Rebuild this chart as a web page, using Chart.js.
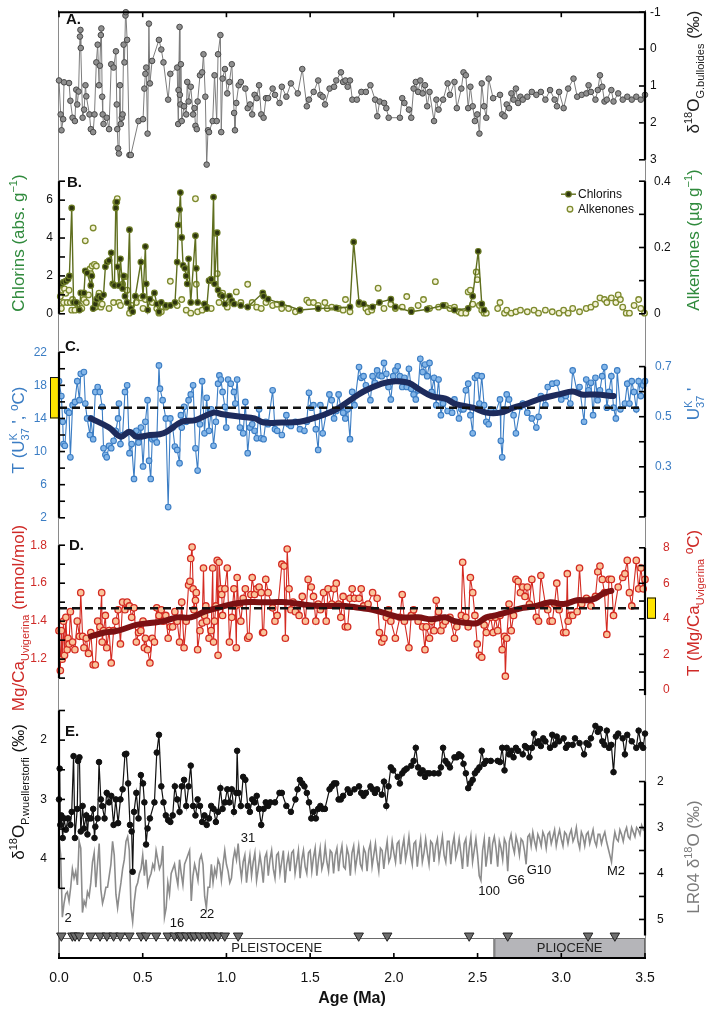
<!DOCTYPE html>
<html>
<head>
<meta charset="utf-8">
<title>Proxy records 0-3.5 Ma</title>
<script src="https://cdn.jsdelivr.net/npm/chart.js@4.4.1/dist/chart.umd.min.js"></script>
<style>
  html, body { margin: 0; padding: 0; background: #fff; }
  #wrap { position: relative; width: 709px; height: 1010px; overflow: hidden; }
  #wrap canvas { position: absolute; left: 0; }
  #frame { position: absolute; left: 58px; top: 10px; width: 586px; height: 948px;
           border-left: 1px solid #8a8a8a; border-right: 1px solid #8a8a8a; }
</style>
</head>
<body>
<div id="wrap">
  <div id="frame"></div>
  <canvas id="panelA" width="709" height="172" style="top:0px"></canvas>
  <canvas id="panelB" width="709" height="165" style="top:165px"></canvas>
  <canvas id="panelC" width="709" height="204" style="top:333px"></canvas>
  <canvas id="panelD" width="709" height="195" style="top:520px"></canvas>
  <canvas id="panelE" width="709" height="318" style="top:692px"></canvas>
</div>
<script>
const FONT = "'Liberation Sans', Arial, Helvetica, sans-serif";
Chart.defaults.font.family = FONT;
Chart.defaults.color = '#111';

// ---------- A. d18O G. bulloides (permil) ----------
const ageA = [
  0.000,0.010,0.015,0.025,0.030,0.060,0.068,0.081,0.095,0.103,
  0.109,0.117,0.125,0.128,0.130,0.141,0.150,0.158,0.163,0.182,
  0.190,0.204,0.212,0.223,0.231,0.239,0.244,0.250,0.253,0.258,
  0.261,0.266,0.285,0.299,0.312,0.326,0.340,0.345,0.348,0.353,
  0.358,0.364,0.369,0.375,0.380,0.386,0.391,0.397,0.399,0.407,
  0.421,0.429,0.475,0.502,0.510,0.516,0.521,0.529,0.537,0.543,
  0.556,0.597,0.611,0.624,0.652,0.665,0.706,0.712,0.714,0.720,
  0.722,0.725,0.728,0.733,0.747,0.760,0.766,0.774,0.787,0.801,
  0.809,0.815,0.823,0.828,0.842,0.855,0.863,0.874,0.882,0.890,
  0.896,0.918,0.929,0.942,0.950,0.964,0.969,0.977,0.991,1.005,
  1.018,1.032,1.046,1.051,1.059,1.073,1.086,1.113,1.127,1.141,
  1.154,1.168,1.181,1.195,1.208,1.222,1.236,1.249,1.276,1.290,
  1.317,1.331,1.358,1.385,1.426,1.453,1.480,1.493,1.521,1.548,
  1.561,1.575,1.589,1.616,1.643,1.656,1.684,1.697,1.711,1.724,
  1.738,1.752,1.779,1.806,1.833,1.860,1.888,1.901,1.915,1.942,
  1.955,1.969,2.036,2.050,2.063,2.090,2.104,2.118,2.131,2.145,
  2.158,2.172,2.186,2.199,2.213,2.240,2.254,2.267,2.294,2.321,
  2.335,2.362,2.376,2.403,2.416,2.430,2.444,2.457,2.471,2.484,
  2.498,2.511,2.525,2.539,2.552,2.566,2.593,2.634,2.647,2.661,
  2.674,2.688,2.702,2.715,2.729,2.742,2.756,2.770,2.797,2.824,
  2.851,2.878,2.905,2.933,2.960,2.974,2.987,3.014,3.041,3.073,
  3.095,3.122,3.150,3.163,3.177,3.204,3.218,3.231,3.245,3.258,
  3.272,3.299,3.312,3.340,3.367,3.394,3.421,3.448,3.475,3.500
];
const d18oBulloides = [
  0.85,1.77,2.20,1.90,0.90,0.92,1.40,1.86,1.95,1.10,
  1.50,1.15,-0.34,-0.52,-0.03,1.86,1.64,0.98,1.28,1.77,
  2.17,2.25,1.77,0.36,-0.12,0.98,0.45,-0.38,-0.56,1.29,
  1.77,2.03,1.86,2.17,0.41,0.50,0.06,1.50,2.17,2.69,
  2.83,0.98,2.03,1.86,1.77,-0.12,0.36,-0.91,-1.00,-0.25,
  2.87,2.87,1.95,1.90,1.07,0.67,0.50,2.29,-0.69,0.93,
  0.32,-0.25,0.01,0.36,1.37,0.67,0.50,2.03,1.11,-0.60,
  1.24,1.50,0.41,1.95,1.55,1.77,0.89,1.42,1.02,1.77,
  1.60,2.08,2.17,1.42,0.71,0.63,0.14,1.29,3.13,2.20,
  2.25,1.95,0.71,1.95,0.14,-0.38,2.25,0.80,0.54,1.20,
  0.89,0.41,1.73,2.20,1.46,0.98,0.89,1.07,1.60,1.50,
  1.77,1.24,1.33,0.98,1.77,1.86,1.33,1.33,1.07,1.24,
  1.46,1.02,1.29,0.93,1.20,0.54,1.55,1.37,1.16,0.85,
  1.24,1.29,1.50,1.07,1.02,0.85,0.63,0.89,0.85,1.02,
  0.85,1.37,1.37,1.16,1.16,0.98,1.37,1.82,1.42,1.46,
  1.60,1.86,1.86,1.33,1.46,1.64,1.86,1.07,0.89,1.16,
  0.85,1.20,0.98,1.55,1.16,1.95,1.37,1.64,1.37,0.93,
  1.24,0.89,1.60,1.07,0.63,0.71,1.60,1.02,1.55,1.95,
  1.77,2.29,0.93,1.55,1.86,0.80,1.33,1.24,1.77,1.82,
  1.50,1.60,1.20,1.37,1.07,1.46,1.29,1.37,1.29,1.16,
  1.24,1.16,1.37,1.11,1.37,1.55,1.16,1.60,1.07,0.80,
  1.29,1.24,1.20,0.98,1.16,1.37,1.11,0.71,1.02,1.42,
  1.37,1.11,1.42,1.20,1.37,1.29,1.37,1.29,1.37,1.24
];

// ---------- B. Chlorins (abs. g-1) and alkenones (ug g-1) ----------
const ageChl = [
  0.014,0.027,0.041,0.054,0.062,0.076,0.087,0.103,0.122,0.130,
  0.149,0.157,0.168,0.190,0.196,0.204,0.217,0.225,0.236,0.250,
  0.266,0.277,0.288,0.299,0.312,0.321,0.331,0.339,0.345,0.350,
  0.358,0.367,0.380,0.386,0.394,0.407,0.421,0.429,0.440,0.456,
  0.489,0.502,0.516,0.521,0.530,0.543,0.570,0.584,0.597,0.611,
  0.638,0.665,0.693,0.706,0.712,0.720,0.725,0.733,0.741,0.752,
  0.760,0.766,0.774,0.787,0.815,0.820,0.828,0.869,0.882,0.896,
  0.909,0.923,0.929,0.945,0.950,0.964,0.977,0.991,1.018,1.032,
  1.046,1.086,1.127,1.217,1.222,1.249,1.331,1.439,1.548,1.656,
  1.738,1.760,1.792,1.819,1.873,1.914,1.982,2.009,2.104,2.199,
  2.294,2.362,2.444,2.471,2.504,2.525,2.539
];
const chlorins = [
  1.58,1.67,1.72,1.83,2.00,5.59,0.60,0.60,0.20,1.10,
  1.10,2.27,2.16,1.50,2.00,0.28,0.52,0.77,0.93,0.85,
  1.00,2.48,2.73,2.81,3.22,1.58,1.50,5.59,5.90,2.48,
  1.50,2.90,1.34,2.00,0.93,0.60,4.44,0.28,0.11,0.93,
  2.73,0.93,3.55,1.58,0.20,0.77,1.10,0.52,0.11,0.60,
  0.44,0.44,0.60,2.73,4.69,5.50,6.40,4.03,2.56,2.40,
  2.00,1.58,2.90,0.60,4.12,2.40,0.60,0.52,0.28,1.75,
  1.83,6.16,1.58,4.28,1.26,1.00,0.93,0.52,0.93,0.69,
  0.52,0.44,0.36,1.10,0.93,0.77,0.52,0.20,0.28,0.31,
  0.36,3.79,0.60,0.52,0.36,0.60,0.77,0.36,0.11,0.24,
  0.44,0.20,0.28,0.93,3.30,0.52,0.20
];
const ageAlk = [
  0.008,0.014,0.019,0.027,0.033,0.041,0.049,0.060,0.068,0.076,
  0.081,0.095,0.109,0.122,0.136,0.149,0.157,0.163,0.176,0.185,
  0.190,0.198,0.204,0.212,0.217,0.223,0.231,0.239,0.250,0.258,
  0.299,0.326,0.339,0.348,0.358,0.367,0.380,0.394,0.407,0.421,
  0.434,0.462,0.489,0.502,0.516,0.557,0.584,0.597,0.611,0.638,
  0.665,0.706,0.733,0.760,0.787,0.815,0.820,0.828,0.855,0.882,
  0.909,0.937,0.945,0.956,0.977,1.005,1.032,1.059,1.086,1.127,
  1.154,1.181,1.208,1.236,1.276,1.303,1.330,1.371,1.412,1.439,
  1.480,1.493,1.520,1.548,1.588,1.602,1.629,1.670,1.697,1.711,
  1.738,1.792,1.833,1.846,1.868,1.906,1.941,1.982,2.009,2.050,
  2.077,2.104,2.145,2.177,2.213,2.248,2.267,2.308,2.335,2.362,
  2.389,2.403,2.430,2.444,2.457,2.471,2.492,2.498,2.511,2.525,
  2.539,2.552,2.620,2.634,2.661,2.674,2.701,2.729,2.756,2.797,
  2.837,2.864,2.905,2.946,2.987,3.014,3.041,3.068,3.109,3.149,
  3.177,3.204,3.231,3.258,3.272,3.299,3.326,3.340,3.353,3.367,
  3.388,3.407,3.435,3.462,3.475,3.497
];
const alkenones = [
  0.052,0.016,0.071,0.034,0.075,0.062,0.034,0.071,0.034,0.011,
  0.043,0.011,0.029,0.025,0.016,0.043,0.220,0.034,0.057,0.135,
  0.121,0.144,0.259,0.149,0.020,0.144,0.034,0.062,0.020,0.029,
  0.016,0.034,0.337,0.347,0.034,0.025,0.089,0.112,0.071,0.002,
  0.025,0.034,0.048,0.016,0.043,0.034,0.016,0.002,0.006,0.020,
  0.098,0.025,0.043,0.011,0.002,0.347,0.089,0.006,0.011,0.020,
  0.016,0.243,0.121,0.034,0.062,0.020,0.034,0.066,0.034,0.089,
  0.034,0.020,0.016,0.034,0.025,0.029,0.016,0.016,0.006,0.011,
  0.041,0.034,0.034,0.025,0.034,0.016,0.020,0.016,0.011,0.043,
  0.006,0.029,0.016,0.006,0.011,0.077,0.016,0.029,0.016,0.020,
  0.052,0.011,0.025,0.043,0.016,0.097,0.020,0.025,0.016,0.020,
  0.006,0.002,0.002,0.066,0.071,0.029,0.126,0.103,0.025,0.011,
  0.002,0.002,0.016,0.034,0.002,0.011,0.002,0.006,0.011,0.006,
  0.011,0.002,0.011,0.006,0.002,0.011,0.002,0.016,0.006,0.016,
  0.020,0.029,0.048,0.043,0.034,0.048,0.034,0.057,0.043,0.020,
  0.002,0.002,0.025,0.043,0.016,0.002
];

// ---------- C. Alkenone SST (UK'37, deg C) ----------
const ageC = [
  0.000,0.014,0.022,0.027,0.035,0.049,0.060,0.068,0.081,0.095,
  0.109,0.122,0.130,0.149,0.157,0.168,0.185,0.190,0.204,0.217,
  0.231,0.244,0.258,0.266,0.277,0.285,0.299,0.312,0.326,0.339,
  0.353,0.358,0.367,0.380,0.394,0.407,0.421,0.434,0.448,0.462,
  0.475,0.489,0.502,0.516,0.529,0.538,0.548,0.557,0.570,0.584,
  0.597,0.603,0.619,0.638,0.652,0.665,0.679,0.692,0.706,0.720,
  0.728,0.733,0.747,0.760,0.774,0.787,0.801,0.815,0.828,0.842,
  0.855,0.869,0.882,0.896,0.909,0.923,0.937,0.950,0.958,0.967,
  0.977,0.991,0.999,1.010,1.026,1.045,1.053,1.064,1.081,1.100,
  1.113,1.127,1.140,1.154,1.168,1.181,1.195,1.208,1.222,1.235,
  1.249,1.276,1.290,1.303,1.331,1.358,1.371,1.385,1.412,1.439,
  1.466,1.480,1.493,1.507,1.520,1.534,1.548,1.561,1.575,1.615,
  1.629,1.643,1.656,1.670,1.683,1.697,1.710,1.724,1.738,1.751,
  1.765,1.792,1.805,1.819,1.833,1.860,1.873,1.887,1.900,1.914,
  1.928,1.941,1.955,1.968,1.982,1.996,2.009,2.023,2.036,2.050,
  2.063,2.077,2.090,2.104,2.118,2.131,2.145,2.158,2.172,2.186,
  2.199,2.213,2.226,2.240,2.253,2.267,2.281,2.294,2.321,2.348,
  2.362,2.389,2.403,2.416,2.430,2.444,2.457,2.471,2.484,2.498,
  2.511,2.525,2.539,2.552,2.566,2.579,2.607,2.634,2.639,2.647,
  2.661,2.674,2.688,2.715,2.729,2.756,2.770,2.797,2.824,2.851,
  2.864,2.878,2.905,2.919,2.946,2.973,3.000,3.027,3.054,3.068,
  3.095,3.109,3.136,3.149,3.163,3.177,3.190,3.204,3.217,3.231,
  3.244,3.258,3.272,3.285,3.299,3.312,3.326,3.334,3.353,3.380,
  3.394,3.407,3.421,3.434,3.448,3.462,3.475,3.489,3.500
];
const sstUk37 = [
  18.5,16.7,13.6,10.9,10.7,14.9,14.7,9.3,15.6,16.0,
  18.5,16.2,19.4,19.6,15.8,14.0,12.0,14.0,11.5,17.2,
  17.8,17.2,15.4,10.4,9.6,9.3,10.7,10.4,11.3,12.5,
  14.0,15.8,10.9,12.0,17.2,18.0,9.8,10.9,6.7,12.5,
  11.1,12.9,8.2,13.6,16.2,8.9,6.7,11.5,11.6,11.1,
  20.4,17.6,16.2,14.0,3.3,14.0,12.9,10.6,10.2,8.6,
  14.4,12.9,15.4,13.6,16.2,16.9,18.0,10.4,7.7,13.3,
  18.5,12.2,16.5,12.5,15.1,10.7,13.6,18.2,19.2,18.7,
  17.2,15.4,12.9,18.7,18.2,17.2,15.8,18.7,12.9,12.2,
  16.0,9.8,12.9,13.3,12.5,11.6,15.1,11.6,11.5,13.6,
  13.3,17.4,12.7,12.5,12.0,14.4,13.3,13.1,13.6,12.7,
  12.5,13.6,17.1,15.3,15.6,12.7,10.2,15.6,12.2,16.9,
  16.2,14.0,14.9,16.9,15.3,14.7,14.0,15.1,11.5,17.2,
  15.6,20.2,18.9,19.1,18.0,16.2,19.1,18.3,19.8,19.2,
  19.1,20.7,19.4,17.8,16.3,19.1,19.8,20.3,19.1,17.8,
  18.9,17.8,20.0,17.6,16.9,16.3,17.4,21.2,19.6,20.5,
  19.1,20.7,17.2,18.9,15.6,18.7,14.4,15.8,14.9,14.7,
  16.3,14.0,15.1,15.1,17.4,18.2,14.4,12.2,18.9,19.2,
  15.8,19.1,15.6,13.6,13.3,15.1,14.7,16.3,11.3,9.3,
  15.1,16.9,16.3,14.4,12.2,15.4,15.8,14.7,14.0,12.9,
  14.2,16.7,15.6,17.8,18.2,18.3,16.3,16.7,15.8,19.8,
  17.2,17.8,13.6,18.7,17.4,18.3,14.4,18.9,16.2,17.4,
  19.1,20.2,15.3,17.2,19.1,15.3,14.0,19.8,15.1,15.8,
  18.2,15.8,18.5,17.2,15.1,18.5,16.7,18.0,18.5
];
const ageCSmooth = [
  0.190,0.299,0.367,0.421,0.462,0.543,0.624,0.733,0.815,0.923,
  0.977,1.086,1.168,1.222,1.330,1.439,1.548,1.656,1.738,1.819,
  1.928,2.009,2.090,2.145,2.226,2.308,2.362,2.471,2.552,2.634,
  2.715,2.797,2.878,2.987,3.068,3.122,3.204,3.312
];
const sstSmooth = [
  14.0,12.9,11.8,12.4,11.8,12.0,12.2,13.6,13.8,14.7,
  14.5,14.2,14.0,13.5,13.5,13.6,14.2,15.1,16.2,17.25,
  18.2,18.5,18.3,17.6,16.7,16.4,15.8,15.3,14.7,14.7,
  15.3,15.8,16.4,16.9,17.25,16.9,16.9,16.7
];
const sstModern = 15.3;          // dashed line, deg C
const sstRange = [14, 19];       // yellow bar, deg C

// ---------- D. Mg/Ca Uvigerina (mmol/mol) ----------
const ageD = [
  0.000,0.008,0.014,0.019,0.027,0.033,0.041,0.049,0.054,0.060,
  0.068,0.081,0.095,0.109,0.122,0.130,0.141,0.149,0.163,0.176,
  0.190,0.204,0.217,0.231,0.244,0.255,0.258,0.266,0.277,0.285,
  0.299,0.312,0.326,0.339,0.353,0.367,0.380,0.394,0.407,0.421,
  0.434,0.448,0.462,0.475,0.489,0.502,0.510,0.516,0.529,0.543,
  0.557,0.570,0.584,0.597,0.611,0.624,0.638,0.652,0.665,0.679,
  0.692,0.706,0.720,0.733,0.747,0.760,0.774,0.782,0.787,0.795,
  0.801,0.806,0.815,0.820,0.828,0.842,0.855,0.863,0.869,0.877,
  0.882,0.896,0.909,0.918,0.923,0.929,0.937,0.945,0.950,0.956,
  0.967,0.972,0.977,0.991,1.005,1.018,1.032,1.045,1.053,1.059,
  1.064,1.072,1.086,1.100,1.113,1.127,1.135,1.146,1.154,1.168,
  1.181,1.195,1.208,1.216,1.222,1.235,1.249,1.276,1.290,1.303,
  1.331,1.344,1.352,1.363,1.374,1.385,1.398,1.412,1.434,1.453,
  1.472,1.488,1.507,1.520,1.534,1.548,1.561,1.580,1.596,1.607,
  1.629,1.643,1.656,1.670,1.683,1.697,1.710,1.724,1.738,1.751,
  1.765,1.792,1.805,1.819,1.846,1.873,1.900,1.914,1.928,1.941,
  1.955,1.968,1.982,2.009,2.036,2.050,2.063,2.090,2.104,2.118,
  2.145,2.172,2.186,2.194,2.213,2.226,2.240,2.253,2.267,2.281,
  2.294,2.308,2.335,2.362,2.376,2.403,2.411,2.430,2.444,2.457,
  2.471,2.484,2.498,2.511,2.525,2.539,2.552,2.579,2.593,2.607,
  2.620,2.634,2.647,2.661,2.666,2.674,2.688,2.701,2.715,2.729,
  2.742,2.756,2.770,2.783,2.797,2.810,2.824,2.851,2.864,2.878,
  2.905,2.919,2.933,2.946,2.960,2.973,2.987,3.014,3.028,3.036,
  3.041,3.055,3.068,3.095,3.109,3.122,3.150,3.177,3.204,3.218,
  3.231,3.245,3.258,3.272,3.285,3.299,3.312,3.340,3.367,3.380,
  3.394,3.407,3.421,3.448,3.462,3.476,3.489,3.500
];
const mgCa = [
  1.35,1.14,1.35,1.20,1.40,1.22,1.42,1.25,1.31,1.28,
  1.45,1.29,1.25,1.40,1.32,1.55,1.32,1.26,1.31,1.23,
  1.34,1.17,1.17,1.40,1.37,1.55,1.29,1.35,1.43,1.26,
  1.35,1.18,1.35,1.40,1.46,1.28,1.50,1.46,1.50,1.48,
  1.42,1.47,1.29,1.34,1.35,1.40,1.26,1.31,1.25,1.18,
  1.31,1.29,1.47,1.43,1.46,1.40,1.43,1.31,1.37,1.37,
  1.45,1.40,1.29,1.50,1.26,1.40,1.59,1.61,1.73,1.79,
  1.57,1.46,1.51,1.55,1.25,1.35,1.39,1.68,1.43,1.48,
  1.40,1.31,1.35,1.68,1.29,1.40,1.48,1.72,1.22,1.71,
  1.57,1.54,1.43,1.57,1.68,1.29,1.42,1.57,1.48,1.26,
  1.63,1.49,1.40,1.52,1.57,1.31,1.32,1.54,1.63,1.54,
  1.57,1.58,1.55,1.34,1.34,1.62,1.55,1.47,1.40,1.43,
  1.70,1.69,1.31,1.78,1.57,1.46,1.50,1.45,1.43,1.53,
  1.40,1.62,1.58,1.53,1.40,1.49,1.46,1.55,1.40,1.57,
  1.49,1.57,1.60,1.49,1.42,1.53,1.37,1.37,1.52,1.57,
  1.52,1.52,1.57,1.48,1.49,1.55,1.52,1.34,1.29,1.31,
  1.42,1.46,1.40,1.31,1.42,1.54,1.40,1.26,1.43,1.46,
  1.40,1.37,1.25,1.37,1.31,1.40,1.35,1.51,1.45,1.35,
  1.38,1.40,1.42,1.31,1.37,1.43,1.71,1.42,1.37,1.63,
  1.55,1.43,1.28,1.22,1.21,1.38,1.34,1.42,1.34,1.42,
  1.35,1.43,1.25,1.32,1.11,1.31,1.49,1.35,1.43,1.62,
  1.61,1.55,1.58,1.53,1.58,1.49,1.62,1.42,1.40,1.64,
  1.49,1.46,1.40,1.40,1.49,1.60,1.46,1.34,1.34,1.65,
  1.40,1.43,1.43,1.45,1.68,1.49,1.52,1.48,1.53,1.66,
  1.69,1.62,1.55,1.33,1.62,1.62,1.43,1.58,1.63,1.65,
  1.72,1.55,1.48,1.72,1.57,1.68,1.57,1.62
];
const ageDSmooth = [
  0.190,0.272,0.353,0.462,0.543,0.624,0.706,0.787,0.869,0.950,
  1.032,1.113,1.195,1.276,1.358,1.439,1.548,1.629,1.710,1.792,
  1.873,1.955,2.036,2.145,2.226,2.308,2.362,2.444,2.498,2.552,
  2.607,2.688,2.770,2.851,2.933,3.014,3.095,3.150,3.204,3.258,
  3.299
];
const mgCaSmooth = [
  1.32,1.34,1.35,1.38,1.39,1.40,1.42,1.42,1.45,1.47,
  1.49,1.50,1.50,1.50,1.50,1.49,1.48,1.48,1.48,1.47,
  1.46,1.44,1.42,1.42,1.41,1.42,1.40,1.39,1.39,1.42,
  1.43,1.45,1.47,1.48,1.50,1.49,1.51,1.51,1.52,1.55,
  1.56
];
const mgCaModern = 1.468;        // dashed line, mmol/mol
const bwtRange = [4.0, 5.2];     // yellow bar, deg C

// ---------- E. d18O P. wuellerstorfi and LR04 stack (permil) ----------
const ageE = [
  0.000,0.004,0.008,0.014,0.022,0.030,0.041,0.054,0.068,0.076,
  0.087,0.095,0.109,0.114,0.122,0.130,0.141,0.149,0.163,0.170,
  0.176,0.190,0.204,0.212,0.217,0.231,0.239,0.250,0.258,0.272,
  0.285,0.299,0.312,0.326,0.339,0.353,0.367,0.380,0.394,0.402,
  0.413,0.424,0.434,0.440,0.448,0.462,0.475,0.489,0.502,0.510,
  0.520,0.529,0.543,0.570,0.584,0.597,0.611,0.624,0.638,0.652,
  0.665,0.679,0.692,0.706,0.720,0.733,0.747,0.760,0.774,0.787,
  0.801,0.815,0.828,0.842,0.855,0.869,0.882,0.896,0.909,0.923,
  0.937,0.950,0.964,0.977,0.991,1.005,1.018,1.032,1.045,1.059,
  1.064,1.072,1.086,1.100,1.113,1.127,1.140,1.154,1.168,1.181,
  1.195,1.208,1.222,1.235,1.249,1.262,1.290,1.317,1.331,1.358,
  1.385,1.412,1.425,1.439,1.453,1.466,1.480,1.493,1.507,1.520,
  1.534,1.548,1.561,1.575,1.588,1.616,1.629,1.643,1.656,1.670,
  1.683,1.697,1.724,1.738,1.765,1.792,1.805,1.819,1.833,1.860,
  1.873,1.887,1.900,1.928,1.941,1.955,1.968,1.982,1.996,2.023,
  2.036,2.050,2.063,2.077,2.104,2.118,2.131,2.145,2.158,2.172,
  2.186,2.199,2.213,2.240,2.267,2.281,2.294,2.308,2.321,2.335,
  2.362,2.376,2.389,2.403,2.416,2.430,2.444,2.457,2.471,2.484,
  2.498,2.511,2.525,2.539,2.552,2.579,2.620,2.634,2.647,2.661,
  2.674,2.688,2.701,2.715,2.729,2.742,2.770,2.783,2.797,2.810,
  2.824,2.837,2.851,2.864,2.878,2.892,2.905,2.933,2.946,2.960,
  2.973,2.987,3.014,3.028,3.041,3.068,3.082,3.109,3.136,3.150,
  3.163,3.177,3.204,3.218,3.231,3.245,3.258,3.272,3.285,3.299,
  3.312,3.326,3.340,3.367,3.380,3.394,3.421,3.448,3.462,3.476,
  3.489,3.500
];
const d18oWuell = [
  3.00,2.48,3.43,3.27,3.65,3.32,3.51,3.32,3.43,3.21,
  2.27,3.65,3.16,2.35,2.29,3.54,3.11,3.49,3.27,3.59,
  3.32,3.32,3.16,3.65,3.46,3.32,2.37,3.00,3.11,3.32,
  2.89,3.05,2.94,3.43,3.00,3.40,3.00,2.83,2.24,2.23,
  2.73,3.43,3.54,4.22,3.21,2.89,3.32,2.59,2.73,3.05,
  3.76,3.49,3.32,3.05,2.21,1.91,2.78,3.05,3.27,3.35,
  3.38,3.27,2.78,3.00,3.21,2.78,2.67,3.11,2.78,2.43,
  3.11,3.27,3.00,3.11,3.38,3.27,3.43,3.32,3.11,3.16,
  3.38,3.21,2.81,3.16,3.05,2.83,3.05,2.83,3.21,2.89,
  2.18,2.89,3.11,2.62,2.67,3.11,3.21,3.00,3.05,2.94,
  3.16,3.43,3.16,3.05,3.11,3.05,3.05,2.89,2.89,3.11,
  3.21,3.00,2.83,2.67,2.73,2.78,2.89,3.05,3.32,3.21,
  3.32,3.16,3.11,3.16,3.16,2.83,2.78,2.73,2.73,3.00,
  3.00,2.94,2.83,2.89,2.83,2.78,2.89,2.94,2.89,2.78,
  2.83,2.89,2.83,2.92,2.70,3.11,2.78,2.46,2.51,2.62,
  2.73,2.56,2.51,2.48,2.43,2.35,2.13,2.46,2.56,2.51,
  2.62,2.56,2.56,2.56,2.56,2.46,2.13,2.35,2.40,2.46,
  2.29,2.29,2.24,2.27,2.40,2.56,2.81,2.73,2.67,2.56,
  2.51,2.46,2.18,2.40,2.35,2.35,2.35,2.37,2.13,2.51,
  2.13,2.24,2.18,2.29,2.13,2.18,2.24,2.10,2.13,2.29,
  2.13,1.89,2.05,2.02,2.10,1.97,2.02,2.13,1.91,2.08,
  1.94,2.02,1.97,2.13,2.08,2.08,1.97,2.05,2.24,2.05,
  2.08,1.97,1.76,1.86,1.81,2.02,2.08,1.84,2.13,2.08,
  2.54,1.94,1.89,1.97,2.24,1.91,2.02,2.13,1.84,2.08,
  2.13,1.89
];
// LR04 benthic stack, 10 kyr spacing from 0 Ma
const lr04Start = 0, lr04Step = 0.01;
const lr04 = [
  3.25,3.6,4.95,4.65,4.45,4.4,4.6,4.3,3.9,4.1,
  3.95,4.25,3.3,3.45,4.85,4.6,4.7,4.4,4.5,4.2,
  3.75,3.55,4.3,3.8,3.35,4.35,4.65,4.5,4.3,4.3,
  4.05,3.8,3.3,3.6,4.45,4.75,4.45,4.2,3.9,3.7,
  3.3,3.2,3.5,4.75,5.05,4.6,4.3,4.2,4.0,3.9,
  3.6,4.05,3.7,4.25,4.1,4.0,3.8,3.9,3.5,3.7,
  3.9,3.8,3.4,4.95,4.75,4.2,4.45,4.0,3.9,3.8,
  4.05,4.25,3.7,4.0,4.25,3.8,3.7,3.6,3.5,4.6,
  4.05,3.8,3.95,4.15,3.7,3.6,3.8,4.5,4.75,4.3,
  4.3,3.8,4.2,3.9,4.05,3.7,3.8,4.15,3.8,3.5,
  3.8,3.95,4.2,4.1,3.7,3.5,3.7,3.35,3.8,4.1,
  3.75,3.6,4.2,3.85,3.6,4.05,3.75,3.55,4.15,3.9,
  3.6,3.85,4.2,3.65,3.55,4.05,3.7,3.5,3.9,4.1,
  3.6,3.55,4.0,3.75,3.5,4.2,3.8,3.6,3.95,3.55,
  3.5,4.0,3.75,3.5,4.1,3.7,3.5,3.85,4.0,3.55,
  3.5,3.95,3.65,3.45,4.05,3.7,3.45,3.9,3.75,3.4,
  3.75,3.95,3.5,3.55,4.0,3.6,3.45,3.95,3.6,3.4,
  3.85,3.9,3.45,3.6,4.05,3.55,3.4,3.9,3.65,3.4,
  3.8,3.9,3.45,3.55,3.95,3.5,3.35,3.85,3.6,3.35,
  3.7,3.95,3.45,3.5,3.9,3.55,3.3,3.75,3.65,3.3,
  3.55,3.75,3.35,3.3,3.8,3.45,3.25,3.7,3.5,3.2,
  3.6,3.8,3.35,3.3,3.85,3.5,3.25,3.75,3.55,3.25,
  3.55,3.8,3.3,3.35,3.75,3.4,3.25,3.7,3.45,3.2,
  3.6,3.75,3.3,3.3,3.8,3.4,3.2,3.65,3.5,3.25,
  3.55,3.9,3.35,3.25,3.85,3.45,3.2,3.75,3.5,3.25,
  3.6,4.05,4.15,3.5,3.25,3.85,3.55,3.2,3.8,3.35,
  3.2,3.45,3.85,3.3,3.45,3.7,3.25,3.35,3.95,3.3,
  3.15,3.4,3.55,3.2,3.35,3.6,3.25,3.3,3.5,3.8,
  3.2,3.15,3.4,3.1,3.3,3.45,3.15,3.25,3.4,3.1,
  3.2,3.45,3.15,3.1,3.35,3.2,3.05,3.4,3.2,3.05,
  3.25,3.4,3.1,3.15,3.35,3.15,3.05,3.3,3.2,3.0,
  3.3,3.45,3.1,3.2,3.4,3.15,3.1,3.35,3.2,3.05,
  3.3,3.4,3.15,3.15,3.35,3.2,3.1,3.3,3.45,3.6,
  3.75,3.35,3.1,3.25,3.3,3.05,3.15,3.3,3.1,3.0,
  3.2,3.25,3.0,3.1,3.2,3.0,3.05,3.15,2.95,3.05,
  3.0
];
const misLabels = ['2', '16', '22', '31', '100', 'G6', 'G10', 'M2'];
const misAge    = [0.054, 0.705, 0.884, 1.129, 2.569, 2.730, 2.867, 3.327];
const misLevel  = [4.98, 5.08, 4.90, 3.24, 4.39, 4.16, 3.93, 3.95];

// age control points and epochs
const tiePointAge = [0.014,0.08,0.096,0.12,0.19,0.245,0.286,0.326,0.367,0.42,0.49,0.52,0.58,0.65,0.69,
  0.72,0.73,0.76,0.79,0.81,0.84,0.87,0.90,0.92,0.95,0.99,1.07,1.79,1.96,2.45,2.68,3.16,3.32];
const epochNames = ['PLEISTOCENE', 'PLIOCENE'];
const epochStart = [0, 2.6];
const epochEnd   = [2.6, 3.5];
const epochFill  = ['#ffffff', '#b5b5b9'];

const xTickVals = [0, 0.5, 1, 1.5, 2, 2.5, 3, 3.5];
const xTickLabels = ['0.0', '0.5', '1.0', '1.5', '2.0', '2.5', '3.0', '3.5'];

// ---------- helpers ----------
const BLUE = '#3b7dc4', RED = '#cf2a27', GREEN = '#2f8a3c';

function xy(xs, ys) { return xs.map((x, i) => ({ x: x, y: ys[i] })); }

function xHidden() { return { type: 'linear', min: 0, max: 3.5, display: false }; }

function yAxis(pos, min, max, reverse, vals, labels, color, pad) {
  return {
    type: 'linear', position: pos, min: min, max: max, reverse: reverse,
    afterBuildTicks: s => { s.ticks = vals.map(v => ({ value: v })); },
    afterFit: s => { s.width = pos === 'left' ? 59 : 64; },
    grid: { display: false, drawTicks: false },
    border: { display: false },
    ticks: { color: color, padding: pad, autoSkip: false, font: { size: 12 },
             callback: (v, i) => labels[i] }
  };
}

function baseOptions(pad, scales) {
  return {
    responsive: false, animation: false, events: [],
    layout: { padding: pad },
    plugins: { legend: { display: false }, tooltip: { enabled: false } },
    scales: scales
  };
}

// rotated axis title with super/subscripts
function drawRich(ctx, segs, x, y, color, size) {
  const small = Math.round(size * 0.64);
  const big = size + 'px ' + FONT, sm = small + 'px ' + FONT;
  ctx.save();
  ctx.translate(x, y);
  ctx.rotate(-Math.PI / 2);
  ctx.fillStyle = color;
  ctx.textBaseline = 'alphabetic';
  ctx.textAlign = 'left';
  const widths = segs.map(s => {
    if (s.t !== undefined) { ctx.font = big; return ctx.measureText(s.t).width; }
    ctx.font = sm;
    return Math.max(s.sup ? ctx.measureText(s.sup).width : 0, s.sub ? ctx.measureText(s.sub).width : 0);
  });
  let cx = -widths.reduce((a, b) => a + b, 0) / 2;
  segs.forEach((s, i) => {
    if (s.t !== undefined) { ctx.font = big; ctx.fillText(s.t, cx, 0); }
    else {
      ctx.font = sm;
      if (s.sup) ctx.fillText(s.sup, cx, -size * 0.42);
      if (s.sub) ctx.fillText(s.sub, cx, size * 0.3);
    }
    cx += widths[i];
  });
  ctx.restore();
}

function drawSpine(ctx, chart, sp) {
  const s = chart.scales[sp.axis];
  const x = sp.side === 'left' ? chart.chartArea.left : chart.chartArea.right;
  const dir = sp.side === 'left' ? 1 : -1;
  ctx.strokeStyle = '#000';
  ctx.lineWidth = 2.2;
  ctx.beginPath();
  ctx.moveTo(x, s.getPixelForValue(sp.from));
  ctx.lineTo(x, s.getPixelForValue(sp.to));
  ctx.stroke();
  ctx.lineWidth = 1.6;
  const n = Math.round((sp.t[1] - sp.t[0]) / sp.t[2]);
  for (let i = 0; i <= n; i++) {
    const y = s.getPixelForValue(sp.t[0] + i * sp.t[2]);
    ctx.beginPath(); ctx.moveTo(x, y); ctx.lineTo(x + dir * 6, y); ctx.stroke();
  }
}

function drawXEdge(ctx, chart, y, dir) {
  const a = chart.chartArea, xs = chart.scales.x;
  ctx.strokeStyle = '#000';
  ctx.lineWidth = 2;
  ctx.beginPath(); ctx.moveTo(a.left - 1, y); ctx.lineTo(a.right + 1, y); ctx.stroke();
  ctx.lineWidth = 1.6;
  xTickVals.forEach(v => {
    const x = xs.getPixelForValue(v);
    ctx.beginPath(); ctx.moveTo(x, y); ctx.lineTo(x, y + dir * 5); ctx.stroke();
  });
}

function decor(cfg) {
  return {
    id: 'decor',
    beforeDatasetsDraw(chart) {
      if (cfg.under) { chart.ctx.save(); cfg.under(chart, chart.ctx); chart.ctx.restore(); }
    },
    afterDraw(chart) {
      const ctx = chart.ctx, off = cfg.top;
      ctx.save();
      (cfg.boxes || []).forEach(b => {
        const s = chart.scales[b.axis];
        const x0 = b.side === 'left' ? chart.chartArea.left - 9 : chart.chartArea.right + 2;
        const y0 = s.getPixelForValue(b.range[1]), y1 = s.getPixelForValue(b.range[0]);
        ctx.fillStyle = '#ffe400';
        ctx.fillRect(x0, y0, 9, y1 - y0);
        ctx.strokeStyle = '#111'; ctx.lineWidth = 1;
        ctx.strokeRect(x0 + 0.5, y0 + 0.5, 8, y1 - y0 - 1);
      });
      (cfg.spines || []).forEach(sp => drawSpine(ctx, chart, sp));
      if (cfg.topBorder) drawXEdge(ctx, chart, chart.chartArea.top, 1);
      if (cfg.bottomAxis) drawXEdge(ctx, chart, chart.chartArea.bottom, -1);
      (cfg.titles || []).forEach(t => drawRich(ctx, t.segs, t.x, t.y - off, t.color, 17));
      if (cfg.letter) {
        ctx.font = 'bold 15px ' + FONT; ctx.fillStyle = '#111';
        ctx.textBaseline = 'middle'; ctx.textAlign = 'left';
        ctx.fillText(cfg.letter[0], cfg.letter[1], cfg.letter[2] - off);
      }
      if (cfg.extra) cfg.extra(chart, ctx);
      ctx.restore();
    }
  };
}

// ---------- A ----------
new Chart(document.getElementById('panelA'), {
  type: 'line',
  data: { datasets: [{
    data: xy(ageA, d18oBulloides), yAxisID: 'yR', clip: false,
    borderColor: '#7d7d7d', borderWidth: 1, pointRadius: 2.8,
    pointBackgroundColor: '#8f8f8f', pointBorderColor: '#4a4a4a', pointBorderWidth: 1
  }]},
  options: baseOptions({ left: 59, right: 0, top: 10, bottom: 10 }, {
    x: xHidden(),
    yR: yAxis('right', -1, 3, true, [-1, 0, 1, 2, 3], ['-1', '0', '1', '2', '3'], '#111', 5)
  }),
  plugins: [decor({
    top: 0, topBorder: true, letter: ['A.', 66, 20],
    spines: [{ axis: 'yR', side: 'right', from: -1, to: 3, t: [-1, 3, 1] }],
    titles: [{ x: 699, y: 72, color: '#222',
      segs: [{ t: 'δ' }, { sup: '18' }, { t: 'O' }, { sub: 'G.bulloides' }, { t: ' (‰)' }] }]
  })]
});

// ---------- B ----------
new Chart(document.getElementById('panelB'), {
  type: 'line',
  data: { datasets: [{
    label: 'Chlorins', data: xy(ageChl, chlorins), yAxisID: 'yL', clip: false,
    borderColor: '#5f6e1e', borderWidth: 1.4, pointRadius: 2.8,
    pointBackgroundColor: '#2d3410', pointBorderColor: '#6b7b25', pointBorderWidth: 1.2
  }, {
    label: 'Alkenones', data: xy(ageAlk, alkenones), yAxisID: 'yR', clip: false,
    showLine: false, pointRadius: 2.8,
    pointBackgroundColor: '#f4f2d8', pointBorderColor: '#7d8a2e', pointBorderWidth: 1.3
  }]},
  options: baseOptions({ left: 0, right: 0, top: 10, bottom: 10 }, {
    x: xHidden(),
    yL: yAxis('left', 0, 7, false, [0, 2, 4, 6], ['0', '2', '4', '6'], '#111', 6),
    yR: yAxis('right', 0, 0.4, false, [0, 0.2, 0.4], ['0', '0.2', '0.4'], '#111', 9)
  }),
  plugins: [decor({
    top: 165, letter: ['B.', 67, 183],
    spines: [{ axis: 'yL', side: 'left', from: 0, to: 7, t: [0, 7, 1] },
             { axis: 'yR', side: 'right', from: 0, to: 0.4, t: [0, 0.4, 0.1] }],
    titles: [
      { x: 24, y: 243, color: GREEN, segs: [{ t: 'Chlorins (abs. g' }, { sup: '−1' }, { t: ')' }] },
      { x: 699, y: 240, color: GREEN, segs: [{ t: 'Alkenones (µg g' }, { sup: '−1' }, { t: ')' }] }
    ],
    extra: (chart, ctx) => {
      const a = chart.chartArea;
      const lx = a.right - 84, y1 = a.top + 13, y2 = a.top + 28;
      ctx.strokeStyle = '#5f6e1e'; ctx.lineWidth = 1.4;
      ctx.beginPath(); ctx.moveTo(lx, y1); ctx.lineTo(lx + 15, y1); ctx.stroke();
      ctx.beginPath(); ctx.arc(lx + 7.5, y1, 2.8, 0, Math.PI * 2);
      ctx.fillStyle = '#2d3410'; ctx.fill(); ctx.strokeStyle = '#6b7b25'; ctx.lineWidth = 1.2; ctx.stroke();
      ctx.beginPath(); ctx.arc(lx + 9, y2, 2.8, 0, Math.PI * 2);
      ctx.fillStyle = '#f4f2d8'; ctx.fill(); ctx.strokeStyle = '#7d8a2e'; ctx.lineWidth = 1.3; ctx.stroke();
      ctx.fillStyle = '#111'; ctx.font = '12px ' + FONT; ctx.textAlign = 'left'; ctx.textBaseline = 'middle';
      ctx.fillText('Chlorins', lx + 17, y1);
      ctx.fillText('Alkenones', lx + 17, y2);
    }
  })]
});

// ---------- C ----------
new Chart(document.getElementById('panelC'), {
  type: 'line',
  data: { datasets: [{
    data: [{ x: 0, y: sstModern }, { x: 3.5, y: sstModern }], yAxisID: 'yL',
    borderColor: '#111', borderWidth: 2.5, borderDash: [8, 5], pointRadius: 0
  }, {
    data: xy(ageCSmooth, sstSmooth), yAxisID: 'yL',
    borderColor: '#1d2b5c', borderWidth: 6, pointRadius: 0, tension: 0.4,
    borderCapStyle: 'round', borderJoinStyle: 'round'
  }, {
    data: xy(ageC, sstUk37), yAxisID: 'yL', clip: false,
    borderColor: BLUE, borderWidth: 1.1, pointRadius: 2.8,
    pointBackgroundColor: '#84b6e8', pointBorderColor: BLUE, pointBorderWidth: 1.1
  }]},
  options: baseOptions({ left: 0, right: 0, top: 10, bottom: 10 }, {
    x: xHidden(),
    yL: yAxis('left', 2, 22, false, [2, 6, 10, 14, 18, 22], ['2', '6', '10', '14', '18', '22'], BLUE, 12),
    yR: yAxis('right', 0.0964, 0.7575, false, [0.3, 0.5, 0.7], ['0.3', '0.5', '0.7'], BLUE, 10)
  }),
  plugins: [decor({
    top: 333, letter: ['C.', 65, 347],
    boxes: [{ axis: 'yL', side: 'left', range: sstRange }],
    spines: [{ axis: 'yL', side: 'left', from: 2, to: 22, t: [2, 22, 2] },
             { axis: 'yR', side: 'right', from: 0.1, to: 0.7, t: [0.1, 0.7, 0.1] }],
    titles: [
      { x: 24, y: 430, color: BLUE, segs: [{ t: 'T (U' }, { sup: 'K', sub: '37' }, { t: " ', ºC)" }] },
      { x: 699, y: 404, color: BLUE, segs: [{ t: 'U' }, { sup: 'K', sub: '37' }, { t: " '" }] }
    ]
  })]
});

// ---------- D ----------
new Chart(document.getElementById('panelD'), {
  type: 'line',
  data: { datasets: [{
    data: [{ x: 0, y: mgCaModern }, { x: 3.5, y: mgCaModern }], yAxisID: 'yL',
    borderColor: '#111', borderWidth: 2.5, borderDash: [8, 5], pointRadius: 0
  }, {
    data: xy(ageDSmooth, mgCaSmooth), yAxisID: 'yL',
    borderColor: '#7b1113', borderWidth: 6, pointRadius: 0, tension: 0.4,
    borderCapStyle: 'round', borderJoinStyle: 'round'
  }, {
    data: xy(ageD, mgCa), yAxisID: 'yL', clip: false,
    borderColor: '#d42b22', borderWidth: 1.1, pointRadius: 3.2,
    pointBackgroundColor: '#f9c49b', pointBorderColor: '#d42b22', pointBorderWidth: 1.3
  }]},
  options: baseOptions({ left: 0, right: 0, top: 20, bottom: 10 }, {
    x: xHidden(),
    yL: yAxis('left', 1.0385, 1.8, false, [1.2, 1.4, 1.6, 1.8], ['1.2', '1.4', '1.6', '1.8'], RED, 12),
    yR: yAxis('right', 0, 8.148, false, [0, 2, 4, 6, 8], ['0', '2', '4', '6', '8'], RED, 18)
  }),
  plugins: [decor({
    top: 520, letter: ['D.', 69, 546],
    boxes: [{ axis: 'yR', side: 'right', range: bwtRange }],
    spines: [{ axis: 'yL', side: 'left', from: 1.1, to: 1.8, t: [1.1, 1.8, 0.1] },
             { axis: 'yR', side: 'right', from: -0.3, to: 8, t: [0, 8, 1] }],
    titles: [
      { x: 24, y: 618, color: RED, segs: [{ t: 'Mg/Ca' }, { sub: 'Uvigerina' }, { t: ' (mmol/mol)' }] },
      { x: 699, y: 603, color: RED, segs: [{ t: 'T (Mg/Ca' }, { sub: 'Uvigerina' }, { t: ' ºC)' }] }
    ]
  })]
});

// ---------- E ----------
new Chart(document.getElementById('panelE'), {
  type: 'line',
  data: { datasets: [{
    data: xy(ageE, d18oWuell), yAxisID: 'yL', clip: false,
    borderColor: '#111', borderWidth: 1.2, pointRadius: 2.8,
    pointBackgroundColor: '#111', pointBorderColor: '#111', pointBorderWidth: 1
  }, {
    data: lr04.map((v, i) => ({ x: lr04Start + i * lr04Step, y: v })), yAxisID: 'yR',
    borderColor: '#8c8c8c', borderWidth: 1.6, pointRadius: 0
  }, {
    data: tiePointAge.map(a => ({ x: a, y: 0.09 })), yAxisID: 'yT', clip: false,
    showLine: false, pointStyle: 'triangle', pointRotation: 180, pointRadius: 5.5,
    pointBackgroundColor: '#6e6e6e', pointBorderColor: '#222', pointBorderWidth: 1
  }]},
  options: baseOptions({ left: 0, right: 0, top: 10, bottom: 0 }, {
    x: {
      type: 'linear', min: 0, max: 3.5, position: 'bottom',
      afterBuildTicks: s => { s.ticks = xTickVals.map(v => ({ value: v })); },
      afterFit: s => { s.height = 52; },
      grid: { display: false, drawTicks: false },
      border: { display: false },
      ticks: { color: '#111', padding: 12, autoSkip: false, maxRotation: 0, font: { size: 14 },
               callback: (v, i) => xTickLabels[i] },
      title: { display: true, text: 'Age (Ma)', color: '#111',
               font: { size: 16, weight: 'bold' }, padding: { top: 0, bottom: 2 } }
    },
    yL: yAxis('left', 1.512, 5.675, true, [2, 3, 4], ['2', '3', '4'], '#111', 12),
    yR: yAxis('right', 0.469, 5.839, true, [2, 3, 4, 5], ['2', '3', '4', '5'], '#111', 12),
    yT: { type: 'linear', min: 0, max: 1, display: false }
  }),
  plugins: [decor({
    top: 692, bottomAxis: true, letter: ['E.', 65, 732],
    spines: [{ axis: 'yL', side: 'left', from: 1.5, to: 4.5, t: [1.5, 4.5, 0.5] },
             { axis: 'yR', side: 'right', from: 2, to: 5.35, t: [2, 5, 0.5] }],
    titles: [
      { x: 24, y: 792, color: '#111',
        segs: [{ t: 'δ' }, { sup: '18' }, { t: 'O' }, { sub: 'P.wuellerstorfi' }, { t: ' (‰)' }] },
      { x: 699, y: 857, color: '#7a7a7a', segs: [{ t: 'LR04 δ' }, { sup: '18' }, { t: 'O (‰)' }] }
    ],
    under: (chart, ctx) => {
      const xs = chart.scales.x, b = chart.chartArea.bottom;
      epochNames.forEach((name, i) => {
        const x0 = xs.getPixelForValue(epochStart[i]), x1 = xs.getPixelForValue(epochEnd[i]);
        ctx.fillStyle = epochFill[i];
        ctx.fillRect(x0, b - 20, x1 - x0, 20);
        ctx.strokeStyle = '#6a6a6a'; ctx.lineWidth = 1;
        ctx.strokeRect(x0 + 0.5, b - 19.5, x1 - x0 - 1, 20);
        ctx.fillStyle = '#222'; ctx.font = '13px ' + FONT;
        ctx.textAlign = 'center'; ctx.textBaseline = 'middle';
        ctx.fillText(name, (x0 + x1) / 2, b - 10);
      });
    },
    extra: (chart, ctx) => {
      const xs = chart.scales.x, ys = chart.scales.yR;
      ctx.fillStyle = '#111'; ctx.font = '13px ' + FONT;
      ctx.textAlign = 'center'; ctx.textBaseline = 'middle';
      misLabels.forEach((m, i) => ctx.fillText(m, xs.getPixelForValue(misAge[i]), ys.getPixelForValue(misLevel[i])));
    }
  })]
});
</script>
</body>
</html>
